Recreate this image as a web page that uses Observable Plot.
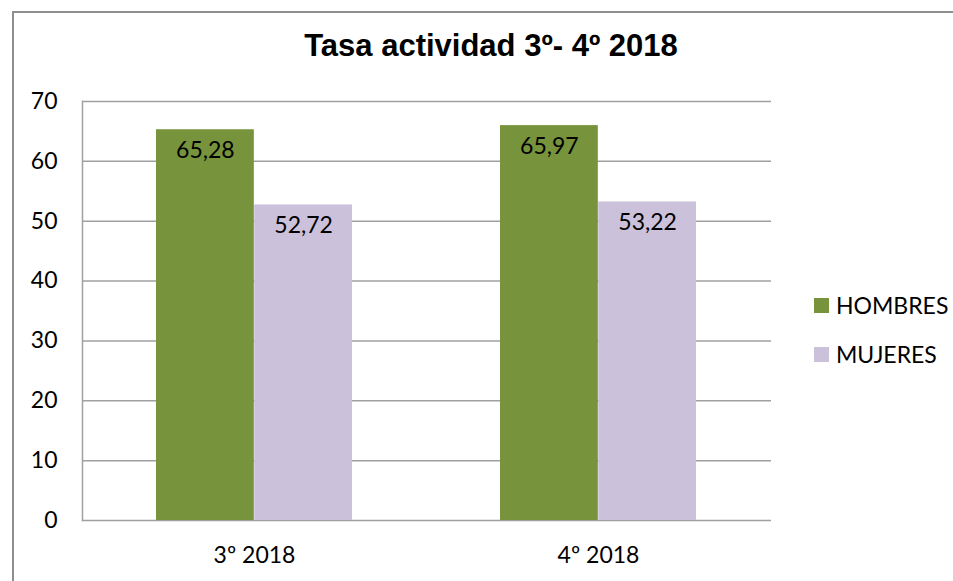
<!DOCTYPE html>
<html>
<head>
<meta charset="utf-8">
<script src="https://cdn.jsdelivr.net/npm/d3@7"></script>
<script src="https://cdn.jsdelivr.net/npm/@observablehq/plot@0.6"></script>
<style>
  html, body { margin: 0; padding: 0; background: #fff; overflow: hidden; }
  #wrap { position: relative; width: 953px; height: 581px; overflow: hidden; }
  #border { position: absolute; left: 12px; top: 11px; width: 1000px; height: 1000px; border: 2px solid #8e8e8e; box-sizing: border-box; }
  #title { position: absolute; left: 241px; width: 500px; top: 28px; text-align: center; font-family: "Liberation Sans", Arial, sans-serif; font-weight: bold; font-size: 31px; color: #000; line-height: 36px; white-space: nowrap; }
  #chart { position: absolute; left: 0; top: 0; }
  .leg { position: absolute; left: 814px; height: 30px; font-family: Lato, "Open Sans", sans-serif; font-size: 23px; color: #000; display: flex; align-items: center; white-space: nowrap; }
  .leg span.sw { display: inline-block; width: 15px; height: 15px; margin-right: 7px; }
</style>
</head>
<body>
<div id="wrap">
  <div id="border"></div>
  <div id="chart"></div>
  <div id="title">Tasa actividad 3º- 4º 2018</div>
  <div id="legend"></div>
</div>
<script>
const periods = ["3º 2018", "4º 2018"];
const series = ["HOMBRES", "MUJERES"];
const hombres = [65.28, 65.97];
const mujeres = [52.72, 53.22];
const yTicks = [0, 10, 20, 30, 40, 50, 60, 70];
const colors = ["#77933C", "#CCC1DA"];

const data = [];
periods.forEach((p, i) => {
  data.push({period: p, series: "HOMBRES", value: hombres[i]});
  data.push({period: p, series: "MUJERES", value: mujeres[i]});
});
const fmt = v => v.toFixed(2).replace(".", ",");

const W = 953, H = 581;
const mL = 82, mR = 182, mT = 101, mB = 61;
const pIn = 0.43, pOut = 0.215;
const step = (W - mL - mR) / (periods.length - pIn + 2 * pOut);
const bw = step * (1 - pIn);
const half = bw / 2;
const quarter = bw / 4;

const font = "Lato, 'Open Sans', sans-serif";
const H_ = data.filter(d => d.series === "HOMBRES");
const M_ = data.filter(d => d.series === "MUJERES");

const chart = Plot.plot({
  width: W, height: H,
  marginLeft: mL, marginRight: mR, marginTop: mT, marginBottom: mB,
  style: {fontFamily: font, fontSize: "23px", color: "#000", background: "transparent"},
  x: {domain: periods, paddingInner: pIn, paddingOuter: pOut, label: null, tickSize: 0, tickPadding: 26},
  y: {domain: [0, 70], ticks: yTicks, label: null, tickSize: 0, tickPadding: 25},
  color: {domain: series, range: colors},
  marks: [
    Plot.ruleY(yTicks, {stroke: "#a0a0a0", strokeWidth: 1.5}),
    Plot.barY(H_, {x: "period", y: "value", fill: "series", insetRight: half}),
    Plot.barY(M_, {x: "period", y: "value", fill: "series", insetLeft: half}),
    Plot.text(H_, {x: "period", y: "value", text: d => fmt(d.value), dx: -quarter, dy: 21, fill: "#000", fontSize: 23, lineAnchor: "middle", textAnchor: "middle"}),
    Plot.text(M_, {x: "period", y: "value", text: d => fmt(d.value), dx: quarter, dy: 21, fill: "#000", fontSize: 23, lineAnchor: "middle", textAnchor: "middle"}),
    Plot.frame({anchor: "left", stroke: "#a0a0a0", strokeWidth: 1.5})
  ]
});
document.getElementById("chart").appendChild(chart);

const legendTops = [290, 339];
const legend = document.getElementById("legend");
series.forEach((s, i) => {
  const el = document.createElement("div");
  el.className = "leg";
  el.style.top = legendTops[i] + "px";
  const sw = document.createElement("span");
  sw.className = "sw";
  sw.style.background = colors[i];
  el.appendChild(sw);
  el.appendChild(document.createTextNode(s));
  legend.appendChild(el);
});
</script>
</body>
</html>
